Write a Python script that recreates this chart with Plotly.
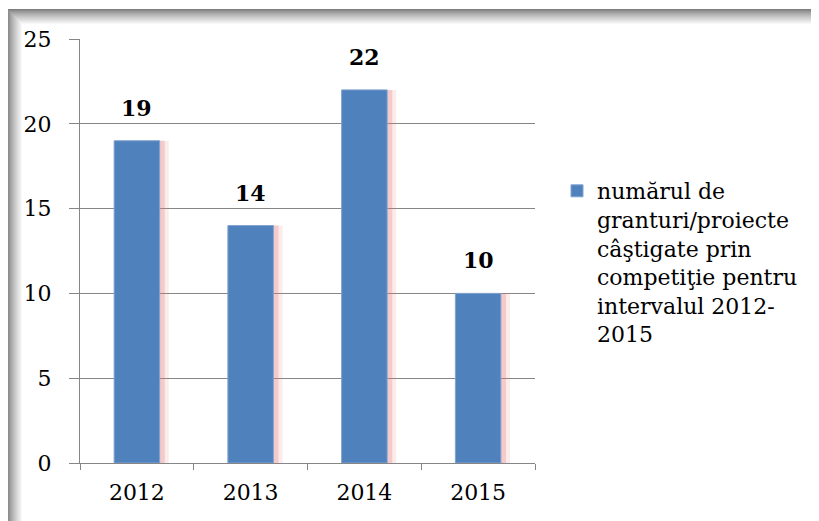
import plotly.graph_objects as go

years = ["2012", "2013", "2014", "2015"]
grants = [19, 14, 22, 10]
series_name = "numărul de<br>granturi/proiecte<br>câştigate prin<br>competiţie pentru<br>intervalul 2012-<br>2015"
y_ticks = [0, 5, 10, 15, 20, 25]

FONT = "DejaVu Serif"
BAR = "#4F81BD"

# the page has an 8px body margin, so the figure is placed at (8, 8)
W, H = 811, 513
L, R, T, B = 72, 284, 31, 58
pw, ph = W - L - R, H - T - B


def px_x(x):
    return (x - L) / pw


def px_y(y):
    return (H - B - y) / ph


fig = go.Figure()

# soft pink glow on the right of the bars
for off, alpha in [(0.08, 0.15), (0.045, 0.28)]:
    fig.add_trace(go.Bar(
        x=years, y=grants, width=0.4, offset=-0.2 + off,
        marker=dict(color=f"rgba(228,120,120,{alpha})", line=dict(width=0)),
        showlegend=False, hoverinfo="skip",
    ))
fig.add_trace(go.Bar(
    x=years, y=grants, name=series_name, width=0.4,
    marker=dict(color=BAR, line=dict(width=1, color="#7FA3D0")),
))

for i, v in enumerate(grants):
    fig.add_annotation(
        x=i, y=v, text=f"<b>{v}</b>", showarrow=False,
        yanchor="middle", yshift=33,
        font=dict(family=FONT, size=22, color="black"),
    )

# grey frame shadow (top and left edges)
steps = 15
for i in range(steps):
    g = int(125 + (255 - 125) * (i / steps) ** 0.8)
    col = f"rgb({g},{g},{g})"
    fig.add_shape(type="rect", xref="paper", yref="paper", layer="below",
                  x0=px_x(-1 + i), x1=px_x(i), y0=px_y(H), y1=px_y(1 + i),
                  fillcolor=col, line=dict(width=0))
    fig.add_shape(type="rect", xref="paper", yref="paper", layer="below",
                  x0=px_x(-1 + i), x1=px_x(W), y0=px_y(1 + i), y1=px_y(2 + i),
                  fillcolor=col, line=dict(width=0))

fig.update_layout(
    width=W, height=H,
    margin=dict(l=L, r=R, t=T, b=B),
    paper_bgcolor="white", plot_bgcolor="white",
    barmode="overlay",
    font=dict(family=FONT, size=22, color="black"),
    showlegend=True,
    legend=dict(x=px_x(549), y=px_y(162), xanchor="left", yanchor="top",
                valign="top", font=dict(family=FONT, size=22),
                bgcolor="rgba(0,0,0,0)"),
    xaxis=dict(
        type="category", range=[-0.5, 3.5],
        showline=True, linecolor="#868686", linewidth=1,
        ticks="outside", tickson="boundaries", ticklen=6, tickcolor="#868686",
        ticklabelstandoff=10, showgrid=False,
    ),
    yaxis=dict(
        range=[0, 25], tickvals=y_ticks,
        showline=True, linecolor="#868686", linewidth=1,
        ticks="outside", ticklen=10, tickcolor="#868686",
        ticklabelstandoff=13,
        showgrid=True, gridcolor="#868686", gridwidth=1, zeroline=False,
    ),
)

fig.write_html("out.html")
